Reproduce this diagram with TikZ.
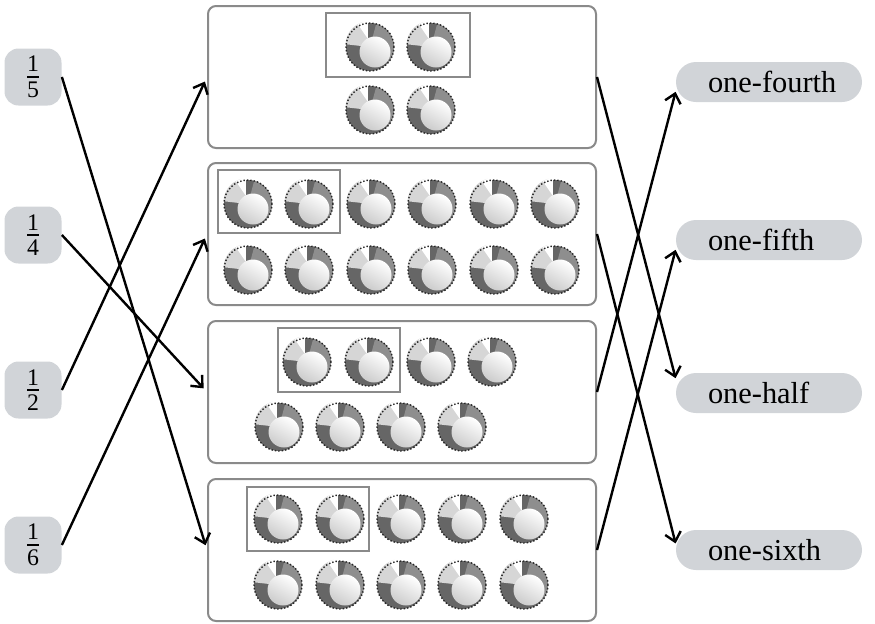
\documentclass[tikz,border=0pt]{standalone}
\usepackage{amsmath}
\usepackage{fontspec}
\setmainfont{Liberation Serif}
\usepackage{tikz}
\usetikzlibrary{positioning}
\usetikzlibrary{arrows.meta}
\definecolor{tagfill}{HTML}{D1D4D8}
\definecolor{boxgrey}{HTML}{8A8A8A}
\definecolor{balldark}{HTML}{666666}
\definecolor{ballmid}{HTML}{8E8E8E}
\definecolor{balllight}{HTML}{D6D6D6}
\newcommand{\frc}[2]{$\frac{\text{#1}}{\text{#2}}$}
\tikzset{
  frac/.style={fill=tagfill, rounded corners=7pt, minimum size=28.5pt, inner sep=0pt, font=\fontsize{17}{20}\selectfont},
  word/.style={fill=tagfill, rounded corners=10pt, text width=77pt, align=left, inner xsep=8pt, inner ysep=0pt, minimum height=20pt,
    font=\fontsize{15.2}{18}\selectfont, execute at begin node=\hspace*{8pt}},
  group/.style={draw=boxgrey, line width=1pt, rounded corners=4pt, minimum width=194pt, minimum height=71pt},
  pair/.style={draw=boxgrey, line width=1pt},
  link/.style={line width=1.2pt, -{Straight Barb[length=4.5pt,width=8pt]}},
  ball/.pic={
    \begin{scope}[yscale=-1]
      \fill[balldark] (0,0) circle (24);
      \fill[ballmid] (0,0) -- (75:24) arc (75:-40:24) -- cycle;
      \fill[balllight] (0,0) -- (105:26) arc (105:178:24) -- cycle;
      \fill[white] (-2,8) -- (95:26) arc (95:120:24) -- cycle;
      \shade[left color=white, right color=gray!40, shading angle=-30] (5,-5) circle (15.5);
      \draw[black!85, densely dotted, line width=0.7pt] (0,0) circle (24);
    \end{scope}
  }
}
\begin{document}
\begin{tikzpicture}[x=0.5pt, y=-0.5pt]
\useasboundingbox (0,0) rectangle (875,623);
% fractions on the left
\node (f5) [frac] at (33,77) {\frc{1}{5}};
\node (f4) [frac, below of = f5, node distance = 79pt] {\frc{1}{4}};
\node (f2) [frac, below of = f4, node distance = 77.5pt] {\frc{1}{2}};
\node (f6) [frac, below of = f2, node distance = 77.5pt] {\frc{1}{6}};
% groups of balls
\node (g1) [group] at (402,77) {};
\node (g2) [group, below of = g1, node distance = 78.5pt] {};
\node (g3) [group, below of = g2, node distance = 79pt] {};
\node (g4) [group, below of = g3, node distance = 79pt] {};
% words on the right
\node (w4) [word] at (769,82) {one-fourth};
\node (w5) [word, below of = w4, node distance = 79pt] {one-fifth};
\node (w2) [word, below of = w5, node distance = 76.5pt] {one-half};
\node (w6) [word, below of = w2, node distance = 78.5pt] {one-sixth};
% first group: 4 balls
\draw[pair] (326,13) rectangle (470,77);
\foreach \x in {370,431} {
  \pic at (\x,47) {ball};
  \pic at (\x,110) {ball};
}
% second group: 12 balls
\draw[pair] (218,170) rectangle (340,233);
\foreach \x in {248,309,371,432,494,555} {
  \pic at (\x,204) {ball};
  \pic at (\x,270) {ball};
}
% third group: 8 balls
\draw[pair] (278,328) rectangle (400,392);
\foreach \x in {307,369,431,492} \pic at (\x,362) {ball};
\foreach \x in {279,340,401,462} \pic at (\x,427) {ball};
% fourth group: 10 balls
\draw[pair] (247,487) rectangle (369,551);
\foreach \x in {278,340,401,462,524} {
  \pic at (\x,519) {ball};
  \pic at (\x,585) {ball};
}
% matching lines
\draw[link, shorten >=2.5pt] (f5.east) -- (g4.west);
\draw[link, shorten >=2.5pt] (f4.east) -- (g3.west);
\draw[link, shorten >=2.5pt] (f2.east) -- (g1.west);
\draw[link, shorten >=2.5pt] (f6.east) -- (g2.west);
\draw[link] (g1.east) -- (w2.171);
\draw[link] (g2.east) -- (w6.176);
\draw[link] (g3.east) -- (w4.186);
\draw[link] (g4.east) -- (w5.186);
\end{tikzpicture}
\end{document}
